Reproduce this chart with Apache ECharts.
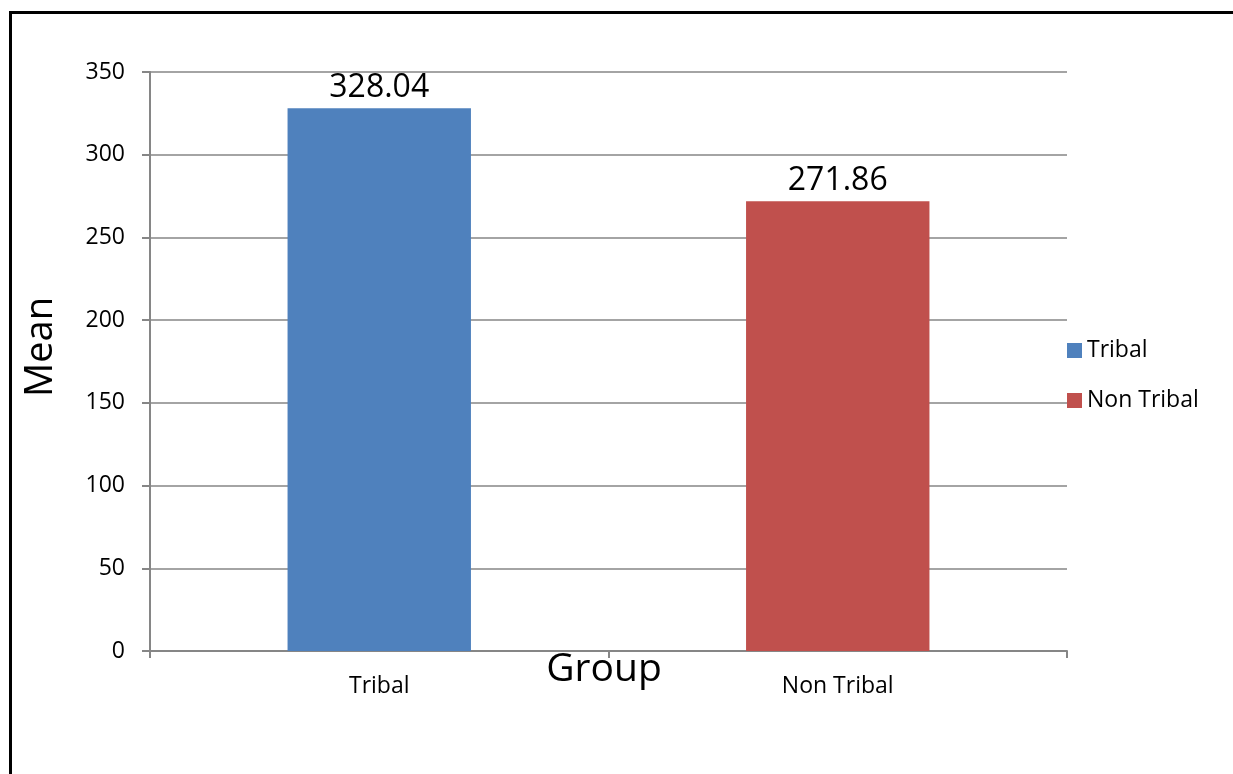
<!DOCTYPE html>
<html>
<head>
<meta charset="utf-8">
<script src="https://cdn.jsdelivr.net/npm/echarts@6/dist/echarts.min.js"></script>
<style>
html,body{margin:0;padding:0;background:#fff;}
#chart{width:1233px;height:774px;}
</style>
</head>
<body>
<div id="chart"></div>
<script>
var categories = ['Tribal', 'Non Tribal'];
var tribalValues = [328.04, '-'];
var nonTribalValues = ['-', 271.86];
var yTicks = {min: 0, max: 350, interval: 50};

var font = '"Open Sans", "Noto Sans", sans-serif';
var chart = echarts.init(document.getElementById('chart'), null, {renderer: 'canvas'});
var labelCfg = {show: true, position: 'top', distance: 4, fontSize: 32, color: '#000', fontFamily: font,
  formatter: function (p) { return p.value.toFixed(2); }};
chart.setOption({
  animation: false,
  backgroundColor: '#fff',
  grid: {left: 150, right: 166, top: 72, bottom: 123, containLabel: false},
  legend: {
    orient: 'vertical', left: 1062, top: 334, itemWidth: 15, itemHeight: 15, itemGap: 27,
    icon: 'rect',
    textStyle: {fontSize: 23, color: '#000', fontFamily: font},
    data: ['Tribal', 'Non Tribal']
  },
  xAxis: {
    type: 'category', data: categories,
    axisLine: {lineStyle: {color: '#868686', width: 2}},
    axisTick: {show: true, alignWithLabel: false, length: 7, lineStyle: {color: '#868686', width: 2}},
    axisLabel: {fontSize: 23, color: '#000', margin: 24, fontFamily: font}
  },
  yAxis: {
    type: 'value', min: yTicks.min, max: yTicks.max, interval: yTicks.interval,
    axisLine: {show: true, lineStyle: {color: '#868686', width: 2}},
    axisTick: {show: true, length: 8, lineStyle: {color: '#868686', width: 2}},
    axisLabel: {fontSize: 23, color: '#000', margin: 25, fontFamily: font},
    splitLine: {show: true, lineStyle: {color: '#868686', width: 1.5}}
  },
  series: [
    {name: 'Tribal', type: 'bar', stack: 'g', data: tribalValues, barWidth: '40%',
      itemStyle: {color: '#4F81BD'}, label: labelCfg},
    {name: 'Non Tribal', type: 'bar', stack: 'g', data: nonTribalValues, barWidth: '40%',
      itemStyle: {color: '#C0504D'}, label: labelCfg}
  ],
  graphic: [
    {type: 'rect', left: 8, top: 10, shape: {width: 1400, height: 900},
      style: {fill: 'none', stroke: '#000', lineWidth: 3}, silent: true, z: 100},
    {type: 'text', x: 41, y: 347, rotation: Math.PI / 2,
      style: {text: 'Mean', fontSize: 38, fill: '#000', fontFamily: font,
      align: 'center', verticalAlign: 'middle'}},
    {type: 'text', x: 604, y: 670,
      style: {text: 'Group', fontSize: 39, fill: '#000', fontFamily: font,
      align: 'center', verticalAlign: 'middle'}}
  ]
});
</script>
</body>
</html>
